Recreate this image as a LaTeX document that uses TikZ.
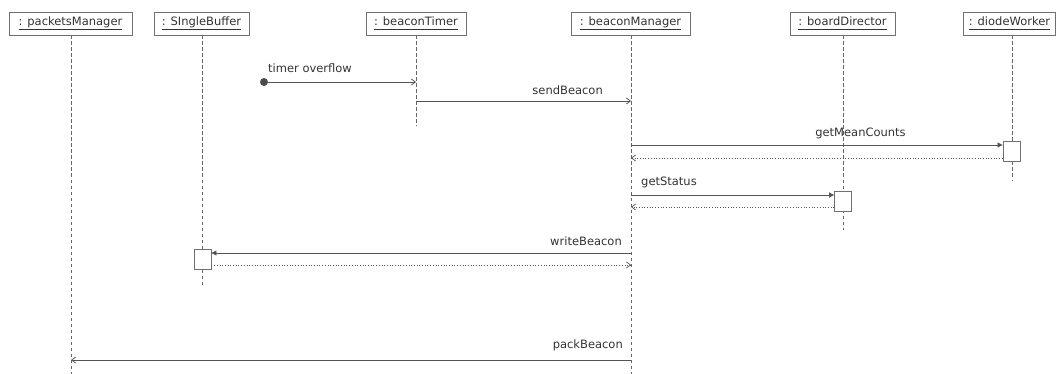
\documentclass[tikz,border=0pt]{standalone}
\usepackage{fontspec}
\setmainfont{DejaVu Sans}
\usetikzlibrary{arrows.meta}
\definecolor{ln}{HTML}{555555}
\definecolor{tx}{HTML}{333333}
\definecolor{bx}{HTML}{707070}
\definecolor{lf}{HTML}{666666}
\newcommand{\ul}[1]{\underline{#1\vphantom{g}}}
\tikzset{
  head/.style={draw=bx, line width=0.9pt, fill=white, minimum height=23pt, inner sep=0pt, text=tx, font=\fontsize{11.5}{13}\selectfont},
  life/.style={draw=lf, dash pattern=on 3.5pt off 2.5pt, line width=0.7pt},
  act/.style={draw=bx, line width=0.9pt, fill=white, minimum width=17pt, minimum height=20pt, inner sep=0pt},
  msg/.style={draw=ln, line width=0.8pt, -{Straight Barb[length=4pt,width=6pt]}},
  sync/.style={draw=ln, line width=0.8pt, -{Triangle[length=5pt,width=5pt]}},
  ret/.style={draw=ln, line width=0.7pt, dotted, -{Straight Barb[length=4pt,width=6pt]}},
  lbl/.style={text=tx, inner sep=0pt, font=\fontsize{11.5}{13}\selectfont},
}
\begin{document}
\begin{tikzpicture}[x=1pt,y=-1pt]
\useasboundingbox (0,0) rectangle (1056,374);
% headers
\node[head, minimum width=123pt] (pm) at (70.5,23.5) {\ul{: packetsManager}};
\node[head, minimum width=95pt] (sb) at (201.5,23.5) {\ul{: SIngleBuffer}};
\node[head, minimum width=100pt] (bt) at (416,23.5) {\ul{: beaconTimer}};
\node[head, minimum width=119pt] (bm) at (630.5,23.5) {\ul{: beaconManager}};
\node[head, minimum width=105pt] (bd) at (842.5,23.5) {\ul{: boardDirector}};
\node[head, minimum width=92pt] (dw) at (1009.5,23.5) {\ul{: diodeWorker}};
% lifeline ends
\coordinate (pmE) at (71,374);
\coordinate (sbE) at (202,287);
\coordinate (btE) at (416,126);
\coordinate (bmE) at (631,374);
\coordinate (bdE) at (843,230);
\coordinate (dwE) at (1012,180);
\coordinate (pmT) at (71,35.5);
\coordinate (sbT) at (202,35.5);
\coordinate (btT) at (416,35.5);
\coordinate (bmT) at (631,35.5);
\coordinate (bdT) at (843,35.5);
\coordinate (dwT) at (1012,35.5);
\draw[life] (pmT) -- (pmE);
\draw[life] (sbT) -- (sbE);
\draw[life] (btT) -- (btE);
\draw[life] (bmT) -- (bmE);
\draw[life] (bdT) -- (bdE);
\draw[life] (dwT) -- (dwE);
% activations
\node[act] (dwA) at (1011.5,151) {};
\node[act] (bdA) at (843,201) {};
\node[act] (sbA) at (202.5,259) {};
% timer overflow
\node[circle, fill=ln!90!black, inner sep=0pt, minimum size=8pt] (start) at (264,82) {};
\coordinate (bt1) at (416,82);
\draw[msg] (start) -- (bt1);
\node[lbl, anchor=west] (l1) at (268,68) {timer overflow};
% sendBeacon
\coordinate (bt2) at (416,101);
\coordinate (bm2) at (631,101);
\draw[msg] (bt2) -- (bm2);
\node[lbl, anchor=east] (l2) at (603,90) {sendBeacon};
% getMeanCounts
\coordinate (bm3) at (631,145);
\coordinate (bm4) at (631,158);
\draw[sync] (bm3) -- (bm3 -| dwA.west);
\draw[ret] (bm4 -| dwA.west) -- (bm4);
\node[lbl] (l3) at (860.5,133) {getMeanCounts};
% getStatus
\coordinate (bm5) at (631,195);
\coordinate (bm6) at (631,207);
\draw[sync] (bm5) -- (bm5 -| bdA.west);
\draw[ret] (bm6 -| bdA.west) -- (bm6);
\node[lbl, anchor=west] (l4) at (641,182) {getStatus};
% writeBeacon
\coordinate (bm7) at (631,253);
\coordinate (bm8) at (631,265);
\draw[sync] (bm7) -- (bm7 -| sbA.east);
\draw[ret] (bm8 -| sbA.east) -- (bm8);
\node[lbl, anchor=east] (l5) at (622,241) {writeBeacon};
% packBeacon
\coordinate (bm9) at (631,360);
\coordinate (pm9) at (71,360);
\draw[msg] (bm9) -- (pm9);
\node[lbl, anchor=east] (l6) at (623,345) {packBeacon};
\end{tikzpicture}
\end{document}
